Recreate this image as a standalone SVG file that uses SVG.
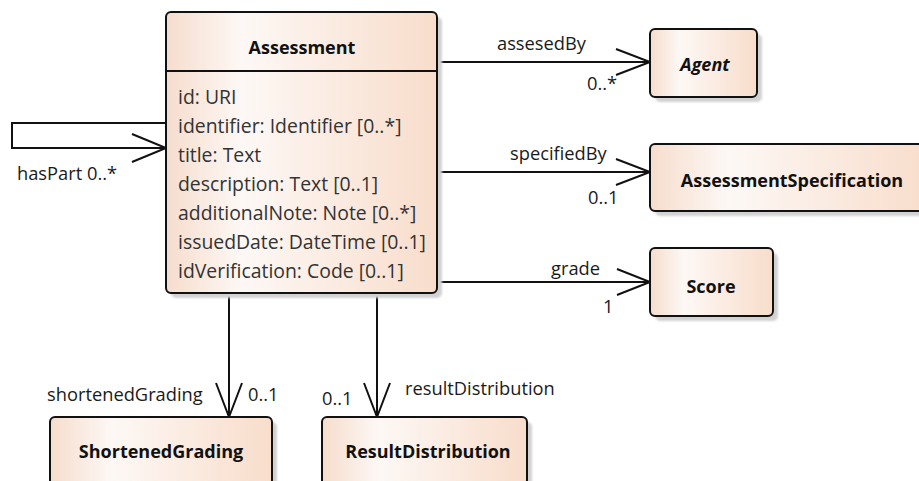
<svg xmlns="http://www.w3.org/2000/svg" width="919" height="481" viewBox="0 0 919 481">
  <defs>
    <linearGradient id="classFill" x1="0" y1="0" x2="1" y2="0">
      <stop offset="0" stop-color="#F6DDCD"/>
      <stop offset="0.28" stop-color="#FDF8F5"/>
      <stop offset="1" stop-color="#F8DDCB"/>
    </linearGradient>
    <filter id="soft" x="-10%" y="-10%" width="130%" height="130%">
      <feGaussianBlur stdDeviation="1.2"/>
    </filter>
  </defs>
  <style>
    .shadow { fill: #d2d2d2; filter: url(#soft); }
    .box { fill: url(#classFill); stroke: #111; stroke-width: 2; }
    .sep { stroke: #111; stroke-width: 2; }
    .name { font-family: "Open Sans", "Liberation Sans", sans-serif; font-size: 18px; font-weight: bold; fill: #111; text-anchor: middle; }
    .abstract { font-style: italic; }
    .attr { font-family: "Open Sans", "Liberation Sans", sans-serif; font-size: 19.4px; fill: #333; }
    .lbl { font-family: "Open Sans", "Liberation Sans", sans-serif; font-size: 18.3px; fill: #1a1a1a; }
    .conn { fill: none; stroke: #111; stroke-width: 2; stroke-linejoin: miter; }
  </style>
  <rect width="919" height="481" fill="#ffffff"/>

  <!-- associations -->
  <g id="connectors">
    <!-- hasPart (self association) -->
    <polyline class="conn" points="166,123 12,123 12,148 166,148"/>
    <polyline class="conn" points="132,134 166,148 132,162"/>
    <text class="lbl" x="17" y="180">hasPart 0..*</text>

    <!-- assesedBy -->
    <line class="conn" x1="437" y1="62" x2="650" y2="62"/>
    <polyline class="conn" points="616,49 650,62 616,75"/>
    <text class="lbl" x="497" y="50">assesedBy</text>
    <text class="lbl" x="587" y="90">0..*</text>

    <!-- specifiedBy -->
    <line class="conn" x1="437" y1="172" x2="650" y2="172"/>
    <polyline class="conn" points="616,159 650,172 616,185"/>
    <text class="lbl" x="510" y="160">specifiedBy</text>
    <text class="lbl" x="588" y="204">0..1</text>

    <!-- grade -->
    <line class="conn" x1="437" y1="282" x2="650" y2="282"/>
    <polyline class="conn" points="617,269 650,282 617,295"/>
    <text class="lbl" x="551" y="275">grade</text>
    <text class="lbl" x="603" y="313">1</text>

    <!-- shortenedGrading -->
    <line class="conn" x1="229" y1="293" x2="229" y2="417"/>
    <polyline class="conn" points="216,383 229,417 242,383"/>
    <text class="lbl" x="47" y="401">shortenedGrading</text>
    <text class="lbl" x="248" y="401">0..1</text>

    <!-- resultDistribution -->
    <line class="conn" x1="377" y1="293" x2="377" y2="417"/>
    <polyline class="conn" points="364,383 377,417 390,383"/>
    <text class="lbl" x="322" y="405">0..1</text>
    <text class="lbl" x="405" y="395">resultDistribution</text>
  </g>

  <!-- Assessment class -->
  <g id="Assessment">
    <rect class="shadow" x="171" y="17" width="271" height="281" rx="5"/>
    <rect class="box" x="166" y="12" width="271" height="281" rx="5"/>
    <line class="sep" x1="166" y1="71" x2="437" y2="71"/>
    <text class="name" x="302" y="54">Assessment</text>
    <text class="attr" x="178" y="104">id: URI</text>
    <text class="attr" x="178" y="133">identifier: Identifier [0..*]</text>
    <text class="attr" x="178" y="162">title: Text</text>
    <text class="attr" x="178" y="191">description: Text [0..1]</text>
    <text class="attr" x="178" y="220">additionalNote: Note [0..*]</text>
    <text class="attr" x="178" y="249">issuedDate: DateTime [0..1]</text>
    <text class="attr" x="178" y="278">idVerification: Code [0..1]</text>
  </g>

  <!-- Agent class (abstract) -->
  <g id="Agent">
    <rect class="shadow" x="655" y="34" width="107" height="68" rx="5"/>
    <rect class="box" x="650" y="29" width="107" height="68" rx="5"/>
    <text class="name abstract" x="705" y="71">Agent</text>
  </g>

  <!-- AssessmentSpecification class -->
  <g id="AssessmentSpecification">
    <rect class="shadow" x="655" y="149" width="280" height="67" rx="5"/>
    <rect class="box" x="650" y="144" width="280" height="67" rx="5"/>
    <text class="name" x="792" y="187">AssessmentSpecification</text>
  </g>

  <!-- Score class -->
  <g id="Score">
    <rect class="shadow" x="655" y="253" width="123" height="68" rx="5"/>
    <rect class="box" x="650" y="248" width="123" height="68" rx="5"/>
    <text class="name" x="711" y="293">Score</text>
  </g>

  <!-- ShortenedGrading class -->
  <g id="ShortenedGrading">
    <rect class="shadow" x="55" y="422" width="222" height="68" rx="5"/>
    <rect class="box" x="50" y="417" width="222" height="68" rx="5"/>
    <text class="name" x="161" y="458">ShortenedGrading</text>
  </g>

  <!-- ResultDistribution class -->
  <g id="ResultDistribution">
    <rect class="shadow" x="327" y="422" width="205" height="68" rx="5"/>
    <rect class="box" x="322" y="417" width="205" height="68" rx="5"/>
    <text class="name" x="428" y="458">ResultDistribution</text>
  </g>
</svg>
